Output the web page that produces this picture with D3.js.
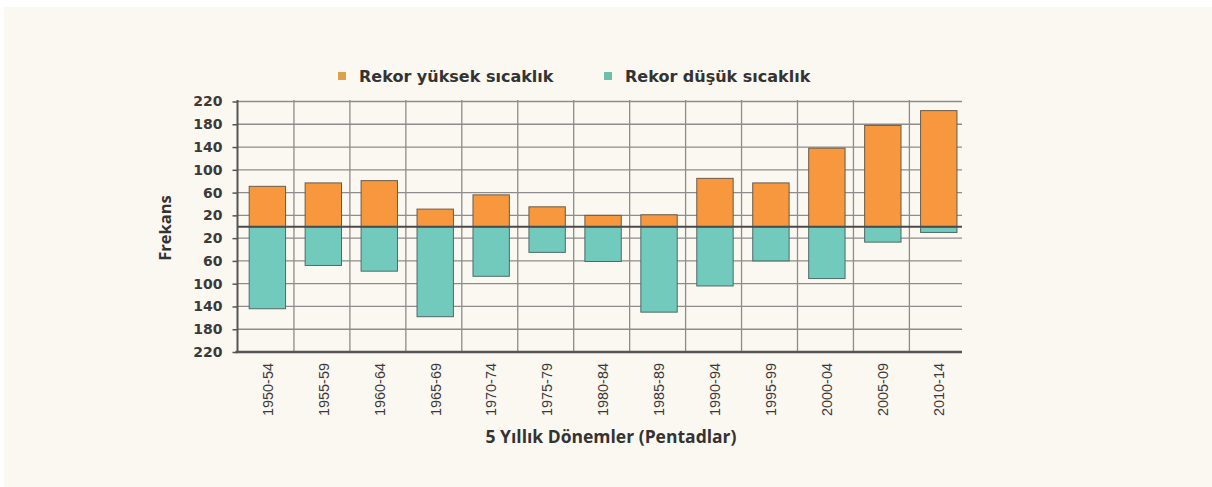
<!DOCTYPE html>
<html>
<head>
<meta charset="utf-8">
<script src="https://cdn.jsdelivr.net/npm/d3@7"></script>
<style>
  html, body { margin: 0; padding: 0; background: #ffffff; }
  svg { display: block; }
</style>
</head>
<body>
<svg id="chart" width="1212" height="487"></svg>
<script>
const periods = ["1950-54", "1955-59", "1960-64", "1965-69", "1970-74", "1975-79", "1980-84",
  "1985-89", "1990-94", "1995-99", "2000-04", "2005-09", "2010-14"];
const recordHighs = [71, 77, 81, 31, 56, 35, 20, 21, 85, 77, 138, 178, 204];
const recordLows = [144, 68, 78, 158, 87, 45, 61, 150, 104, 60, 91, 27, 10];
const yTickValues = [220, 180, 140, 100, 60, 20, -20, -60, -100, -140, -180, -220];
const legendLabels = ["Rekor yüksek sıcaklık", "Rekor düşük sıcaklık"];

const HIGH_COLOR = "#f7983f";
const LOW_COLOR = "#72cabd";
const GRID_COLOR = "#8c8c8c";

const svg = d3.select("#chart");
const plot = { left: 237.5, right: 962, top: 100, bottom: 352 };

// cream card behind the chart
svg.append("rect")
  .attr("x", 4).attr("y", 7)
  .attr("width", 1212).attr("height", 487)
  .attr("fill", "#fbf8f1");

const x = d3.scaleBand()
  .domain(periods)
  .range([238, 238 + 55.95 * periods.length]);

const y = d3.scaleLinear()
  .domain([-220, 220])
  .range([plot.bottom, plot.top + 1.5]);

// horizontal grid
svg.append("g")
  .selectAll("line")
  .data(yTickValues)
  .join("line")
  .attr("x1", plot.left)
  .attr("x2", plot.right)
  .attr("y1", d => y(d))
  .attr("y2", d => y(d))
  .attr("stroke", GRID_COLOR)
  .attr("stroke-width", 1.3);

// vertical grid between pentads
svg.append("g")
  .selectAll("line")
  .data(periods.slice(1))
  .join("line")
  .attr("x1", d => x(d))
  .attr("x2", d => x(d))
  .attr("y1", plot.top)
  .attr("y2", plot.bottom)
  .attr("stroke", GRID_COLOR)
  .attr("stroke-width", 1.3);

const barOffset = x.step() * 0.2;
const barWidth = x.step() * 0.65;

svg.append("g")
  .selectAll("rect")
  .data(periods)
  .join("rect")
  .attr("x", d => x(d) + barOffset)
  .attr("width", barWidth)
  .attr("y", (d, i) => y(recordHighs[i]))
  .attr("height", (d, i) => y(0) - y(recordHighs[i]))
  .attr("fill", HIGH_COLOR)
  .attr("stroke", "#6a5a4a")
  .attr("stroke-width", 1);

svg.append("g")
  .selectAll("rect")
  .data(periods)
  .join("rect")
  .attr("x", d => x(d) + barOffset)
  .attr("width", barWidth)
  .attr("y", y(0))
  .attr("height", (d, i) => y(-recordLows[i]) - y(0))
  .attr("fill", LOW_COLOR)
  .attr("stroke", "#4f6a66")
  .attr("stroke-width", 1);

// zero line
svg.append("line")
  .attr("x1", plot.left).attr("x2", plot.right)
  .attr("y1", y(0)).attr("y2", y(0))
  .attr("stroke", "#4a4a4a")
  .attr("stroke-width", 2);

// y axis
const yAxis = d3.axisLeft(y)
  .tickValues(yTickValues)
  .tickSize(5)
  .tickSizeOuter(0)
  .tickPadding(10)
  .tickFormat(d => Math.abs(d));

const yAxisG = svg.append("g")
  .attr("transform", `translate(${plot.left},0)`)
  .call(yAxis);
yAxisG.select(".domain")
  .attr("stroke", "#555")
  .attr("stroke-width", 2)
  .attr("d", `M0,${plot.top}V${plot.bottom}`);
yAxisG.selectAll(".tick line").attr("stroke", "#555").attr("stroke-width", 1.5);
yAxisG.selectAll(".tick text")
  .attr("fill", "#3a3a3a")
  .style("font-family", "'DejaVu Sans', sans-serif")
  .style("font-weight", "bold")
  .style("font-size", "14px");

// bottom axis
svg.append("line")
  .attr("x1", plot.left - 2).attr("x2", plot.right)
  .attr("y1", plot.bottom).attr("y2", plot.bottom)
  .attr("stroke", "#555")
  .attr("stroke-width", 2.5);

svg.append("g")
  .selectAll("text")
  .data(periods)
  .join("text")
  .attr("transform", d => `translate(${x(d) + x.bandwidth() * 0.53 + 5},${plot.bottom + 11}) rotate(-90)`)
  .attr("text-anchor", "end")
  .attr("textLength", 53)
  .attr("lengthAdjust", "spacingAndGlyphs")
  .attr("fill", "#3a3a3a")
  .style("font-family", "'Liberation Sans Narrow', 'Liberation Sans', sans-serif")
  .style("font-size", "14px")
  .text(d => d);

// axis titles
svg.append("text")
  .attr("transform", `translate(171,228) rotate(-90)`)
  .attr("text-anchor", "middle")
  .attr("fill", "#333")
  .style("font-family", "'Open Sans', sans-serif")
  .style("font-weight", "bold")
  .style("font-size", "16.5px")
  .text("Frekans");

svg.append("text")
  .attr("x", 611)
  .attr("y", 443)
  .attr("text-anchor", "middle")
  .attr("fill", "#333")
  .style("font-family", "'Open Sans', sans-serif")
  .style("font-weight", "bold")
  .style("font-size", "17.5px")
  .text("5 Yıllık Dönemler (Pentadlar)");

// legend
const legendX = [338, 604];
const legendColors = ["#e0a04a", "#6fbfa8"];
const legend = svg.append("g")
  .selectAll("g")
  .data(legendLabels)
  .join("g")
  .attr("transform", (d, i) => `translate(${legendX[i]},72)`);
legend.append("rect")
  .attr("width", 8).attr("height", 8)
  .attr("fill", (d, i) => legendColors[i]);
legend.append("text")
  .attr("x", 21)
  .attr("y", 10)
  .attr("fill", "#333")
  .style("font-family", "'DejaVu Sans', sans-serif")
  .style("font-weight", "bold")
  .style("font-size", "16px")
  .text(d => d);
</script>
</body>
</html>
